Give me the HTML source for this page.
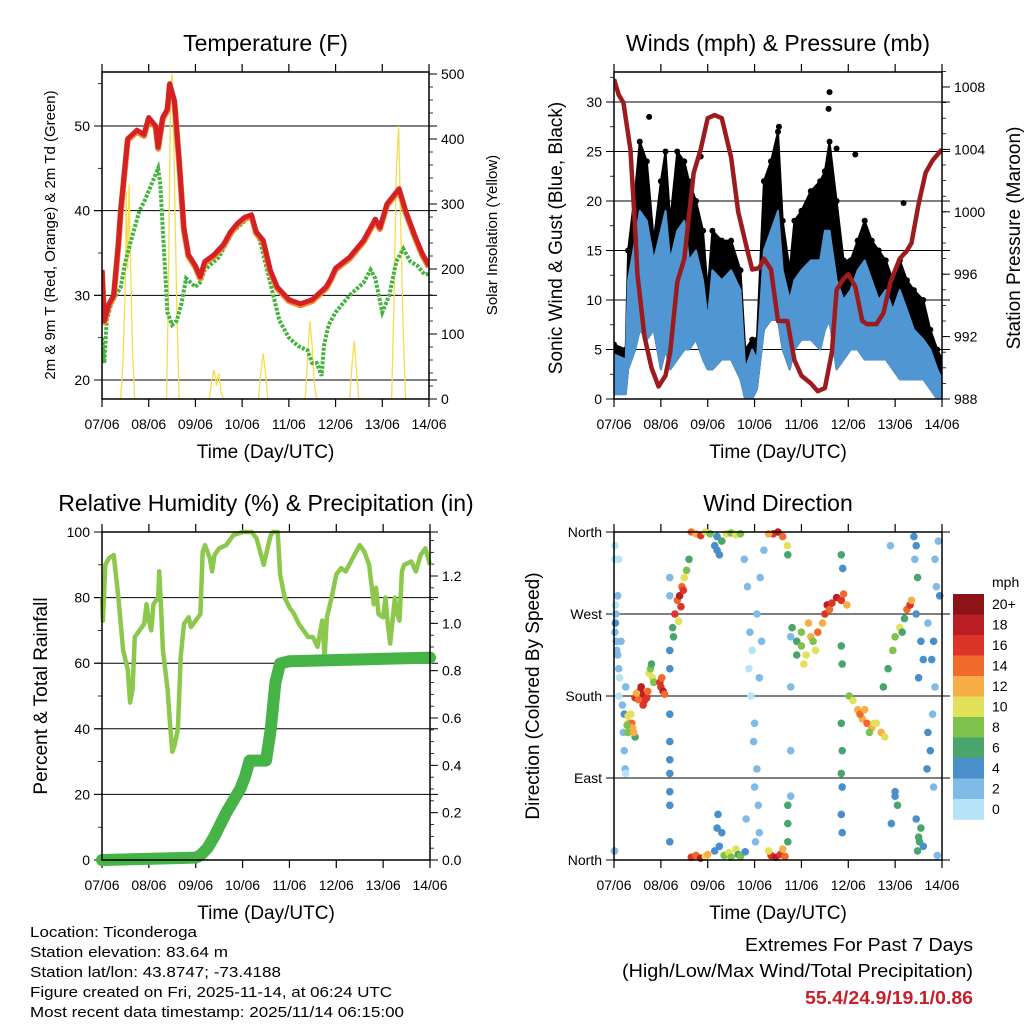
<!DOCTYPE html>
<html><head><meta charset="utf-8"><style>
html,body{margin:0;padding:0;background:#fff;}
svg text{font-family:"Liberation Sans",Arial,sans-serif;fill:#000;}
</style></head><body>
<svg id="root" xmlns="http://www.w3.org/2000/svg" width="1024" height="1024" viewBox="0 0 1024 1024">
<rect width="1024" height="1024" fill="#fff"/>
<g id="p1"></g>
<g id="p2"></g>
<g id="p3"></g>
<g id="p4"></g>
<g id="cb"></g>
<g font-size="15">
<text x="30" y="937" textLength="167" lengthAdjust="spacingAndGlyphs">Location: Ticonderoga</text>
<text x="30" y="957" textLength="198" lengthAdjust="spacingAndGlyphs">Station elevation: 83.64 m</text>
<text x="30" y="977" textLength="251" lengthAdjust="spacingAndGlyphs">Station lat/lon: 43.8747; -73.4188</text>
<text x="30" y="997" textLength="362" lengthAdjust="spacingAndGlyphs">Figure created on Fri, 2025-11-14, at 06:24 UTC</text>
<text x="30" y="1017" textLength="374" lengthAdjust="spacingAndGlyphs">Most recent data timestamp: 2025/11/14 06:15:00</text>
</g>
<g font-size="18">
<text x="745" y="951" textLength="228" lengthAdjust="spacingAndGlyphs">Extremes For Past 7 Days</text>
<text x="622" y="977" textLength="351" lengthAdjust="spacingAndGlyphs">(High/Low/Max Wind/Total Precipitation)</text>
<text x="805" y="1004" textLength="168" lengthAdjust="spacingAndGlyphs" font-weight="bold" style="fill:#c8202a">55.4/24.9/19.1/0.86</text>
</g>
</svg>
<script>
// ---------- DATA ----------
const dayLabels=["07/06","08/06","09/06","10/06","11/06","12/06","13/06","14/06"];
const tempT=[0,0.05,0.15,0.25,0.3,0.35,0.4,0.55,0.75,0.9,1.0,1.15,1.2,1.3,1.4,1.45,1.55,1.65,1.75,1.85,2.0,2.1,2.2,2.4,2.6,2.75,2.9,3.05,3.2,3.3,3.45,3.6,3.75,4.0,4.25,4.5,4.8,4.9,5.0,5.3,5.6,5.85,5.95,6.1,6.36,6.5,6.7,6.85,7.0];
const tempV=[33,27,29,30,33,36,40,48.5,49.5,49,51,50,47.5,51,52,55,53,46,38,34.8,33.5,32.2,34,34.8,36,37.5,38.5,39.2,39.5,37.5,36.5,33,31,29.5,29,29.5,31,32,33.2,34.5,36.5,39,38,40.8,42.6,40,37,35,33.5];
const dewT=[0,0.05,0.1,0.2,0.3,0.4,0.5,0.6,0.8,0.9,1.05,1.2,1.25,1.3,1.35,1.4,1.5,1.6,1.7,1.8,2.0,2.1,2.2,2.5,2.8,3.2,3.4,3.6,3.8,4.0,4.2,4.4,4.5,4.6,4.7,4.75,4.85,5.0,5.3,5.6,5.75,5.85,6.0,6.15,6.3,6.45,6.6,6.75,6.9,7.0];
const dewV=[25,22,27,29,30,31,34,36,40,41,43,45,43,38,33,28,26.5,27,29,32,31,31.5,33,34.5,37.5,39.5,36,31.5,27,25,24,23.5,22,22,20.5,24,26.5,28,30,31.5,33,32,28,30,34,35.5,34,33.5,32.5,32.5];
const solarT=[0,0.4,0.45,0.5,0.52,0.55,0.58,0.6,0.65,0.7,1.38,1.42,1.45,1.47,1.5,1.53,1.56,1.6,1.65,2.3,2.35,2.4,2.45,2.5,2.55,2.6,3.35,3.4,3.45,3.5,3.55,4.35,4.4,4.45,4.5,4.55,4.6,5.3,5.35,5.4,5.45,5.5,6.2,6.25,6.3,6.35,6.4,6.45,6.5,7.0];
const solarV=[0,0,60,180,320,200,330,250,80,0,0,150,350,480,500,420,300,150,0,0,30,45,20,40,10,0,0,40,70,40,0,0,60,120,80,20,0,0,50,90,40,0,0,150,350,420,250,100,0,0];
const windT=[0,0.25,0.3,0.45,0.55,0.7,0.85,1.0,1.1,1.2,1.35,1.5,1.6,1.75,1.9,2.0,2.1,2.3,2.5,2.7,2.8,2.95,3.05,3.2,3.35,3.5,3.6,3.75,3.85,4.0,4.2,4.4,4.5,4.6,4.75,4.9,5.05,5.2,5.35,5.5,5.65,5.8,5.95,6.1,6.25,6.4,6.6,6.75,6.9,7.0];
const sonicLo=[0.5,0.5,3,5,7,6,7,3,5,3,4,5,5,6,4,3,3,4,4,2,0,0,1,7,8,8,5,3,5,6,6,5,7,8,3,4,5,5,4,4,4,4,3,2,2,2,2,1,0,0];
const sonicHi=[4.5,4,12,16,19,18,14,17,19,14,17,18,14,15,12,8,13,12,13,11,3,5,4,15,17,19,13,10,12,13,14,14,17,17,12,10,11,13,14,12,10,11,9,11,9,7,6,5,3,2];
const gustHi=[5.5,5,15,21,26,24,16,22,25,18,25,24,22,20,17,11,17,16,16,13,5,6,6,22,24,27,18,13,18,19,21,22,23,26,20,14,14,16,18,16,15,14,12,14,12,11,10,7,5,4];
const gustOutT=[0.75,1.85,3.52,4.58,4.6,4.75,5.15,6.18];
const gustOutV=[28.5,24.5,27.5,29.3,31,25.3,24.7,19.8];
const presT=[0,0.1,0.2,0.35,0.45,0.5,0.65,0.8,0.95,1.1,1.2,1.35,1.5,1.7,1.85,2.0,2.15,2.3,2.5,2.65,2.85,2.95,3.1,3.2,3.35,3.5,3.7,3.85,4.0,4.2,4.35,4.5,4.65,4.75,4.9,5.0,5.15,5.3,5.4,5.6,5.75,5.9,6.1,6.25,6.35,6.5,6.65,6.8,7.0];
const presV=[1008.5,1007.5,1007,1004,999,996,992,990,988.8,989.5,991,995.5,997,1002.5,1004,1006,1006.2,1006,1003.5,1000,997.5,996.3,996.4,997,996.3,993,993,990.5,989.5,989,988.5,988.7,991,995,995.7,996,995.2,993,992.8,992.8,993.5,995.5,997,997.5,998,1000.5,1002.5,1003.3,1004];
const rhT=[0,0.02,0.07,0.15,0.25,0.35,0.45,0.55,0.6,0.65,0.7,0.8,0.9,0.95,1.0,1.05,1.1,1.2,1.22,1.25,1.3,1.4,1.45,1.5,1.55,1.62,1.68,1.75,1.85,1.9,2.0,2.1,2.15,2.2,2.3,2.35,2.4,2.5,2.65,2.8,3.0,3.2,3.3,3.45,3.55,3.6,3.65,3.75,3.8,3.9,4.0,4.1,4.2,4.3,4.4,4.5,4.6,4.7,4.75,4.8,4.9,5.0,5.1,5.2,5.35,5.5,5.6,5.7,5.8,5.85,5.9,6.0,6.05,6.1,6.15,6.25,6.3,6.35,6.4,6.45,6.6,6.7,6.8,6.9,7.0];
const rhV=[80,73,90,92,93,80,64,58,48,52,68,70,72,78,73,70,78,80,88,80,64,52,42,33,35,40,62,72,74,71,73,75,94,96,92,88,93,95,96,99,100,100,98,90,96,99,100,100,87,80,77,75,72,70,68,68,65,73,62,74,80,87,89,88,92,96,94,90,78,83,75,74,80,72,66,80,75,73,88,90,91,88,93,95,90];
const rainT=[0,2.0,2.1,2.25,2.4,2.5,2.65,2.8,2.95,3.05,3.15,3.5,3.6,3.7,3.8,4.0,7.0];
const rainV=[0,0.01,0.02,0.05,0.1,0.14,0.2,0.25,0.3,0.35,0.42,0.42,0.55,0.75,0.83,0.84,0.855];
const speedLabels=["0","2","4","6","8","10","12","14","16","18","20+"];
const speedColors=["#b5e3f8","#7fbbe6","#4a8fc9","#4aa56d","#7dc24a","#e3e159","#f7ae47","#f06a2c","#dc3428","#bb1d24","#8c1419"];
// wind direction scatter: time (days), direction (deg, 0=N 90=E 180=S 270=W 360=N), speed (mph)
const dirT=[0.02,0.03,0.05,0.04,0.06,0.08,0.1,0.12,0.03,0.02,0.1,0.08,0.15,0.1,0.18,0.2,0.22,0.24,0.22,0.25,0.02,0.01,0.25,
0.3,0.32,0.35,0.3,0.38,0.4,0.36,0.28,0.45,0.42,
0.45,0.5,0.55,0.6,0.65,0.7,0.58,0.52,0.48,0.62,0.72,
0.75,0.78,0.82,0.85,0.8,
0.98,1.0,1.05,1.02,1.08,
1.19,1.19,1.19,1.19,1.19,1.19,1.19,1.19,1.19,1.19,1.19,
1.25,1.3,1.35,1.4,1.45,1.5,1.55,1.27,1.38,1.43,1.48,1.6,
1.65,1.75,1.85,1.95,2.05,2.2,2.3,2.4,2.5,2.6,2.7,2.2,2.25,2.15,
1.65,1.75,1.85,1.95,2.0,
2.15,2.25,2.35,2.45,2.5,2.6,2.65,2.7,2.8,2.2,2.22,2.3,
2.78,2.85,2.9,2.95,2.88,2.92,3.0,2.98,3.05,3.0,3.08,2.82,3.1,3.05,3.12,3.15,3.1,3.2,3.02,
3.4,3.5,3.6,3.7,3.3,
3.35,3.45,3.55,3.65,3.6,3.3,
3.71,3.71,3.71,3.71,3.77,3.77,3.77,3.77,
3.8,3.9,4.0,4.1,4.2,4.3,4.35,4.45,4.5,4.55,4.6,3.9,4.05,4.25,4.15,4.0,
4.65,4.75,4.85,4.9,4.97,
4.85,4.87,4.85,4.87,4.85,4.87,4.85,4.87,4.88,4.85,
5.02,5.1,5.2,5.3,5.4,5.5,5.6,5.7,5.78,5.45,5.25,5.35,5.55,
5.75,5.85,5.95,6.0,6.1,6.2,6.25,6.32,6.35,6.15,
5.9,6.0,6.0,6.05,5.92,
6.4,6.45,6.42,6.48,6.45,6.55,6.6,6.5,6.5,6.52,6.55,6.48,6.6,6.45,
6.7,6.75,6.68,6.8,6.85,6.78,6.82,6.7,6.88,6.85,6.92,6.82,6.9,6.95];
const dirD=[250,260,240,270,230,225,210,200,280,330,330,290,240,180,170,140,120,100,160,95,345,10,190,
158,150,145,140,150,145,160,148,135,140,
178,180,185,182,175,178,190,176,183,170,185,
205,210,200,195,215,
195,190,185,200,182,
230,210,160,130,110,95,75,60,20,290,310,
255,270,285,290,300,310,318,245,262,278,296,330,
360,358,356,360,358,355,350,358,359,357,358,340,335,345,
3,5,2,4,6,
10,15,5,8,3,12,6,4,9,35,50,30,
330,300,250,230,210,180,150,130,100,80,60,45,30,270,310,240,200,340,20,
358,360,355,345,358,
5,3,6,4,12,10,
20,40,60,335,190,120,70,245,
255,240,235,225,245,230,250,260,270,280,275,225,215,240,260,250,
282,288,285,292,280,
235,215,150,120,95,80,50,30,320,335,
180,175,165,155,150,145,150,140,135,140,160,165,150,
190,210,230,245,255,265,275,280,285,250,
345,75,70,60,40,
355,345,330,310,270,240,220,200,25,20,35,10,15,45,
140,120,100,160,190,220,240,260,300,330,350,80,5,290];
const dirS=[3,4,3,2,3,2,3,1,1,1,1,2,2,1,3,2,2,2,4,1,1,2,3,
10,12,13,9,14,12,11,8,6,12,
16,18,20,18,17,16,19,15,12,16,14,
10,8,11,9,7,
16,17,18,15,14,
4,4,4,4,4,4,4,4,4,3,3,
6,16,15,18,14,11,9,6,10,17,16,6,
14,12,17,10,9,4,6,10,8,10,9,5,5,4,
16,14,18,10,12,
4,4,8,10,9,10,6,8,4,4,4,5,
2,3,2,1,1,1,2,2,3,3,2,2,2,3,2,2,2,2,2,
16,18,14,10,12,
16,18,17,14,12,10,
6,6,6,6,3,3,3,2,
6,6,8,10,12,10,14,12,16,18,14,6,10,8,12,8,
16,18,16,14,12,
6,6,6,6,6,5,4,4,5,6,
8,10,12,12,14,12,10,12,10,8,14,12,10,
6,6,8,8,10,6,14,16,12,6,
2,4,4,6,4,
4,4,3,6,4,4,4,4,6,6,6,6,4,4,
4,4,4,2,2,4,4,3,2,2,2,2,2,4];

// ---------- HELPERS ----------
const NS="http://www.w3.org/2000/svg";
function mk(parent,tag,attrs,text){const e=document.createElementNS(NS,tag);for(const k in attrs)e.setAttribute(k,attrs[k]);if(text!==undefined)e.textContent=text;parent.appendChild(e);return e;}
function lin(d0,d1,r0,r1){return v=>r0+(v-d0)*(r1-r0)/(d1-d0);}
function pathFrom(xs,ys,sx,sy){let d="";for(let i=0;i<xs.length;i++)d+=(i?"L":"M")+sx(xs[i]).toFixed(1)+","+sy(ys[i]).toFixed(1);return d;}

function frame(g,L,R,T,B,sx,title,xtitle){
  const t=mk(g,"text",{x:(L+R)/2,y:T-21,"text-anchor":"middle","font-size":"23"},title);
  
  
  for(let i=0;i<dayLabels.length;i++){
    const x=sx(i);
    mk(g,"line",{x1:x,x2:x,y1:B,y2:B+8,stroke:"#000","stroke-width":1.2});
    mk(g,"line",{x1:x,x2:x,y1:T,y2:T-8,stroke:"#000","stroke-width":1.2});
    const tl=mk(g,"text",{x:x,y:B+30,"text-anchor":"middle","font-size":"14"},dayLabels[i]);
    
    
  }
  const xt=mk(g,"text",{x:(L+R)/2,y:B+59,"text-anchor":"middle","font-size":"19"},xtitle);
  
  
}
function box(g,L,R,T,B){mk(g,"rect",{x:L,y:T,width:R-L,height:B-T,fill:"none",stroke:"#000","stroke-width":1.5});}
function yaxis(g,side,X,ticks,labels,sy,minorStep,range,L,R,grid){
  const dir=side==="left"?-1:1;
  for(let i=0;i<ticks.length;i++){
    const y=sy(ticks[i]);
    if(grid) mk(g,"line",{x1:L-8,x2:R+8,y1:y,y2:y,stroke:"#000","stroke-width":1});
    mk(g,"line",{x1:X,x2:X+dir*8,y1:y,y2:y,stroke:"#000","stroke-width":1});
    const tl=mk(g,"text",{x:X+dir*12,y:y+5,"text-anchor":side==="left"?"end":"start","font-size":"14"},labels[i]);
    
    
  }
  if(minorStep){for(let v=range[0];v<=range[1]+1e-9;v+=minorStep){const y=sy(v);mk(g,"line",{x1:X,x2:X+dir*4,y1:y,y2:y,stroke:"#000","stroke-width":0.8});}}
}
function ytitle(g,x,y,size,txt,name){
  const t=mk(g,"text",{x:x,y:y,"text-anchor":"middle","font-size":size,transform:"rotate(-90 "+x+" "+y+")"},txt);
  
  
}

// ---------- PANEL 1 : Temperature ----------
(function(){
  const g=document.getElementById("p1");const L=102,R=429,T=72,B=399;
  const sx=lin(0,7,L,R), sy=lin(20,50,380,126), sr=lin(0,500,B,74);
  const clip=mk(g,"clipPath",{id:"c1"});mk(clip,"rect",{x:L,y:T,width:R-L,height:B-T});
  frame(g,L,R,T,B,sx,"Temperature (F)","Time (Day/UTC)");
  yaxis(g,"left",L,[20,30,40,50],["20","30","40","50"],sy,5,[20,55],L,R,true);
  yaxis(g,"right",R,[0,100,200,300,400,500],["0","100","200","300","400","500"],sr,20,[0,500],L,R,false);
  const pg=mk(g,"g",{"clip-path":"url(#c1)"});
  const sol=mk(pg,"path",{d:pathFrom(solarT,solarV,sx,sr),fill:"none",stroke:"#f5dc50","stroke-width":1.3});
  
  
  const dew=mk(pg,"path",{d:pathFrom(dewT,dewV,sx,sy),fill:"none",stroke:"#45b33f","stroke-width":4,"stroke-dasharray":"3 1.5"});
  
  
  const t9=mk(pg,"path",{d:pathFrom(tempT,tempV,sx,v=>sy(v)+1.5),fill:"none",stroke:"#f08a2c","stroke-width":6,"stroke-linejoin":"round"});
  
  
  const t2=mk(pg,"path",{d:pathFrom(tempT,tempV,sx,sy),fill:"none",stroke:"#d42126","stroke-width":5,"stroke-linejoin":"round"});
  
  
  box(g,L,R,T,B);
  ytitle(g,55,235,"15","2m & 9m T (Red, Orange) & 2m Td (Green)","left-y-axis-title");
  ytitle(g,497,235,"15","Solar Insolation (Yellow)","right-y-axis-title");
})();

// ---------- PANEL 2 : Winds ----------
(function(){
  const g=document.getElementById("p2");const L=614,R=942,T=72,B=399;
  const sx=lin(0,7,L,R), sy=lin(0,30,B,102), sp=lin(988,1008,B,87);
  const clip=mk(g,"clipPath",{id:"c2"});mk(clip,"rect",{x:L,y:T,width:R-L,height:B-T});
  frame(g,L,R,T,B,sx,"Winds (mph) & Pressure (mb)","Time (Day/UTC)");
  yaxis(g,"left",L,[0,5,10,15,20,25,30],["0","5","10","15","20","25","30"],sy,2.5,[0,32.5],L,R,true);
  yaxis(g,"right",R,[988,992,996,1000,1004,1008],["988","992","996","1000","1004","1008"],sp,1,[988,1009],L,R,false);
  const pg=mk(g,"g",{"clip-path":"url(#c2)"});
  function band(lo,hi,color,name){
    let d="";for(let i=0;i<windT.length;i++)d+=(i?"L":"M")+sx(windT[i]).toFixed(1)+","+sy(hi[i]).toFixed(1);
    for(let i=windT.length-1;i>=0;i--)d+="L"+sx(windT[i]).toFixed(1)+","+sy(lo[i]).toFixed(1);
    const p=mk(pg,"path",{d:d+"Z",fill:color,stroke:color,"stroke-width":2,"stroke-linejoin":"round"});
    
    
  }
  band(sonicLo,gustHi,"#000","gust-band");
  for(let i=0;i<windT.length;i++){const c=mk(pg,"circle",{cx:sx(windT[i]),cy:sy(gustHi[i]),r:3,fill:"#000"});
    
    }
  for(let i=0;i<gustOutT.length;i++){const c=mk(pg,"circle",{cx:sx(gustOutT[i]),cy:sy(gustOutV[i]),r:3,fill:"#000"});
    
    }
  band(sonicLo,sonicHi,"#4f96d2","sonic-wind-band");
  const pr=mk(pg,"path",{d:pathFrom(presT,presV,sx,sp),fill:"none",stroke:"#9c1b1f","stroke-width":4.5,"stroke-linejoin":"round"});
  
  
  box(g,L,R,T,B);
  ytitle(g,562,238,"19","Sonic Wind & Gust (Blue, Black)","left-y-axis-title");
  ytitle(g,1020,238,"19","Station Pressure (Maroon)","right-y-axis-title");
})();

// ---------- PANEL 3 : RH & Precip ----------
(function(){
  const g=document.getElementById("p3");const L=102,R=430,T=532,B=860;
  const sx=lin(0,7,L,R), sy=lin(0,100,B,T), sr=lin(0,1.2,B,576);
  const clip=mk(g,"clipPath",{id:"c3"});mk(clip,"rect",{x:L-8,y:T-8,width:R-L+16,height:B-T+16});
  frame(g,L,R,T,B,sx,"Relative Humidity (%) & Precipitation (in)","Time (Day/UTC)");
  yaxis(g,"left",L,[0,20,40,60,80,100],["0","20","40","60","80","100"],sy,10,[0,100],L,R,true);
  yaxis(g,"right",R,[0,0.2,0.4,0.6,0.8,1.0,1.2],["0.0","0.2","0.4","0.6","0.8","1.0","1.2"],sr,0.05,[0,1.35],L,R,false);
  const pg=mk(g,"g",{"clip-path":"url(#c3)"});
  const rh=mk(pg,"path",{d:pathFrom(rhT,rhV,sx,sy),fill:"none",stroke:"#8cc84b","stroke-width":4.5,"stroke-linejoin":"round"});
  
  
  const rn=mk(pg,"path",{d:pathFrom(rainT,rainV,sx,sr),fill:"none",stroke:"#45b345","stroke-width":12,"stroke-linecap":"round","stroke-linejoin":"round"});
  
  
  box(g,L,R,T,B);
  ytitle(g,47,696,"19","Percent & Total Rainfall","left-y-axis-title");
})();

// ---------- PANEL 4 : Wind direction ----------
(function(){
  const g=document.getElementById("p4");const L=614,R=942,T=532,B=860;
  const sx=lin(0,7,L,R), sy=lin(0,360,B,T);
  frame(g,L,R,T,B,sx,"Wind Direction","Time (Day/UTC)");
  yaxis(g,"left",L,[0,90,180,270,360],["North","East","South","West","North"],sy,null,null,L,R,true);
  const pg=mk(g,"g",{});
  for(let i=0;i<dirT.length;i++){
    const k=Math.min(10,Math.floor(dirS[i]/2));
    const c=mk(pg,"circle",{cx:sx(dirT[i]).toFixed(1),cy:sy(dirD[i]).toFixed(1),r:3.8,fill:speedColors[k]});
    
    
  }
  box(g,L,R,T,B);
  ytitle(g,539,696,"19","Direction (Colored By Speed)","left-y-axis-title");
})();

// ---------- Colorbar ----------
(function(){
  const g=document.getElementById("cb");const x=953,w=31,top=594,h=20.5;
  const u=mk(g,"text",{x:992,y:587,"font-size":"14"},"mph");
  
  
  for(let i=0;i<speedColors.length;i++){
    const k=speedColors.length-1-i;
    const r=mk(g,"rect",{x:x,y:top+i*h,width:w,height:h+0.3,fill:speedColors[k]});
    
    
    const t=mk(g,"text",{x:992,y:top+i*h+15,"font-size":"14"},speedLabels[k]);
    
    
  }
})();
</script>
</body></html>
